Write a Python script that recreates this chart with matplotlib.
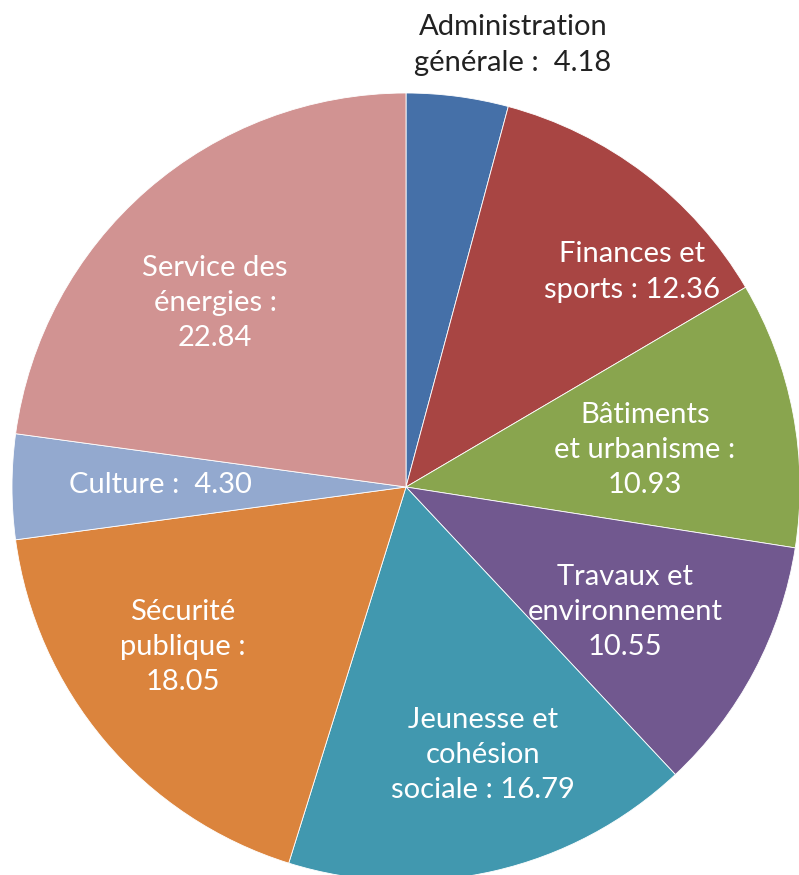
import matplotlib
matplotlib.use("Agg")
import matplotlib.pyplot as plt

# data
labels = ["Administration\ngénérale :  4.18",
          "Finances et\nsports : 12.36",
          "Bâtiments\net urbanisme :\n10.93",
          "Travaux et\nenvironnement\n10.55",
          "Jeunesse et\ncohésion\nsociale : 16.79",
          "Sécurité\npublique :\n18.05",
          "Culture :  4.30",
          "Service des\nénergies :\n22.84"]
values = [4.18, 12.36, 10.93, 10.55, 16.79, 18.05, 4.30, 22.84]
colors = ["#4570A8", "#A84543", "#89A54E", "#71588F",
          "#4198AF", "#DB843D", "#93A9CF", "#D19392"]

# label centres in pixels (x, y from top), as placed in the original
label_pos = [(513, 45), (632, 272), (645, 450), (625, 612),
             (483, 755), (183, 647), (160, 485), (215, 303)]

W, H = 799, 875
fig = plt.figure(figsize=(W / 100, H / 100), dpi=100)
ax = fig.add_axes([0, 0, 1, 1])

cx, cy, r = 406, H - 487, 394
ax.pie(values, colors=colors, startangle=90, counterclock=False,
       center=(cx, cy), radius=r, frame=True,
       wedgeprops=dict(edgecolor="white", linewidth=0.6))
ax.set_xlim(0, W)
ax.set_ylim(0, H)
ax.set_aspect("equal")
ax.axis("off")

for i, (lab, (x, y)) in enumerate(zip(labels, label_pos)):
    col = "#222222" if i == 0 else "white"
    ax.text(x, H - y, lab, ha="center", va="center", color=col,
            fontsize=21, family=["Lato", "DejaVu Sans"], linespacing=1.45)

fig.savefig("out.png", dpi=100)
